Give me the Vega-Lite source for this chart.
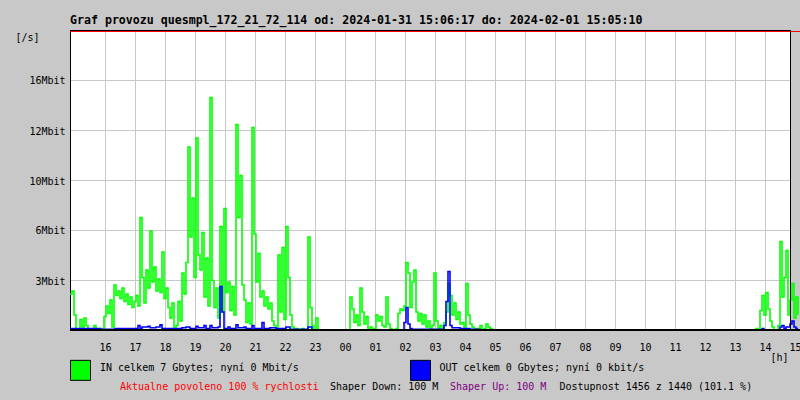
{
  "$schema": "https://vega.github.io/schema/vega-lite/v6.json",
  "width": 730,
  "height": 300,
  "autosize": {"type": "none"},
  "padding": {"left": 70, "top": 30, "right": 0, "bottom": 70},
  "background": "#c8c8c8",
  "config": {
    "view": {"fill": "white", "stroke": null},
    "axis": {"labelOverlap": false, "labelSeparation": 0, "labelFont": "DejaVu Sans Mono", "labelFontSize": 10},
    "text": {"font": "DejaVu Sans Mono", "fontSize": 10, "align": "left", "baseline": "middle"}
  },
  "title": {
    "text": "Graf provozu quesmpl_172_21_72_114 od: 2024-01-31 15:06:17 do: 2024-02-01 15:05:10",
    "anchor": "start",
    "frame": "group",
    "font": "DejaVu Sans Mono",
    "fontSize": 11.6,
    "fontWeight": "bold",
    "color": "black",
    "baseline": "alphabetic",
    "offset": 7,
    "dy": 13
  },
  "layer": [
    {
      "data": {"values": [{}]},
      "mark": {"type": "rect", "fill": "#c8c8c8"},
      "encoding": {
        "x": {"datum": 2332, "type": "quantitative"},
        "x2": {"datum": 2350},
        "y": {"datum": 0, "type": "quantitative"},
        "y2": {"datum": 20}
      }
    },
    {
      "data": {"values": [
        {"t":890,"s":"IN","v":2.4},{"t":894,"s":"IN","v":2.6},{"t":898,"s":"IN","v":1.0},{"t":902,"s":"IN","v":0},{"t":906,"s":"IN","v":0},{"t":910,"s":"IN","v":0.7},{"t":914,"s":"IN","v":0.2},{"t":918,"s":"IN","v":0.8},{"t":922,"s":"IN","v":0.3},{"t":926,"s":"IN","v":0},{"t":934,"s":"IN","v":0},{"t":938,"s":"IN","v":0.3},{"t":942,"s":"IN","v":0},{"t":946,"s":"IN","v":0},{"t":950,"s":"IN","v":0.1},{"t":954,"s":"IN","v":0},{"t":958,"s":"IN","v":0.9},{"t":962,"s":"IN","v":1.6},{"t":966,"s":"IN","v":1.1},{"t":970,"s":"IN","v":2.0},{"t":974,"s":"IN","v":0.2},{"t":978,"s":"IN","v":3.0},{"t":982,"s":"IN","v":2.3},{"t":986,"s":"IN","v":2.6},{"t":990,"s":"IN","v":2.1},{"t":994,"s":"IN","v":2.8},{"t":998,"s":"IN","v":1.9},{"t":1002,"s":"IN","v":2.4},{"t":1006,"s":"IN","v":1.7},{"t":1010,"s":"IN","v":2.2},{"t":1014,"s":"IN","v":1.5},{"t":1018,"s":"IN","v":1.9},{"t":1022,"s":"IN","v":2.3},{"t":1026,"s":"IN","v":1.6},{"t":1030,"s":"IN","v":7.5},{"t":1034,"s":"IN","v":3.5},{"t":1038,"s":"IN","v":1.8},{"t":1042,"s":"IN","v":4.0},{"t":1046,"s":"IN","v":2.8},{"t":1050,"s":"IN","v":6.6},{"t":1054,"s":"IN","v":3.2},{"t":1058,"s":"IN","v":4.2},{"t":1062,"s":"IN","v":2.6},{"t":1066,"s":"IN","v":3.4},{"t":1070,"s":"IN","v":2.5},{"t":1074,"s":"IN","v":5.2},{"t":1078,"s":"IN","v":2.1},{"t":1082,"s":"IN","v":2.8},{"t":1086,"s":"IN","v":1.5},{"t":1090,"s":"IN","v":0.8},{"t":1094,"s":"IN","v":1.8},{"t":1098,"s":"IN","v":0},{"t":1102,"s":"IN","v":0.3},{"t":1106,"s":"IN","v":1.9},{"t":1110,"s":"IN","v":0.6},{"t":1114,"s":"IN","v":3.8},{"t":1118,"s":"IN","v":2.4},{"t":1122,"s":"IN","v":4.5},{"t":1126,"s":"IN","v":12.2},{"t":1130,"s":"IN","v":6.2},{"t":1134,"s":"IN","v":8.8},{"t":1138,"s":"IN","v":3.5},{"t":1142,"s":"IN","v":12.8},{"t":1146,"s":"IN","v":5.0},{"t":1150,"s":"IN","v":4.0},{"t":1154,"s":"IN","v":6.5},{"t":1158,"s":"IN","v":2.2},{"t":1162,"s":"IN","v":4.8},{"t":1166,"s":"IN","v":1.6},{"t":1170,"s":"IN","v":15.5},{"t":1174,"s":"IN","v":3.3},{"t":1178,"s":"IN","v":1.5},{"t":1182,"s":"IN","v":2.8},{"t":1186,"s":"IN","v":0.8},{"t":1190,"s":"IN","v":6.9},{"t":1194,"s":"IN","v":1.2},{"t":1198,"s":"IN","v":8.1},{"t":1202,"s":"IN","v":2.5},{"t":1206,"s":"IN","v":3.2},{"t":1210,"s":"IN","v":1.3},{"t":1214,"s":"IN","v":2.9},{"t":1218,"s":"IN","v":1.0},{"t":1222,"s":"IN","v":13.7},{"t":1226,"s":"IN","v":7.5},{"t":1230,"s":"IN","v":10.3},{"t":1234,"s":"IN","v":3.0},{"t":1238,"s":"IN","v":2.0},{"t":1242,"s":"IN","v":0.5},{"t":1246,"s":"IN","v":1.8},{"t":1250,"s":"IN","v":0.4},{"t":1254,"s":"IN","v":13.5},{"t":1258,"s":"IN","v":6.4},{"t":1262,"s":"IN","v":3.2},{"t":1266,"s":"IN","v":5.1},{"t":1270,"s":"IN","v":2.2},{"t":1274,"s":"IN","v":2.6},{"t":1278,"s":"IN","v":1.6},{"t":1282,"s":"IN","v":2.2},{"t":1286,"s":"IN","v":1.4},{"t":1290,"s":"IN","v":1.8},{"t":1294,"s":"IN","v":0.6},{"t":1298,"s":"IN","v":0.3},{"t":1302,"s":"IN","v":0.1},{"t":1306,"s":"IN","v":5.0},{"t":1310,"s":"IN","v":1.2},{"t":1314,"s":"IN","v":5.5},{"t":1318,"s":"IN","v":0.7},{"t":1322,"s":"IN","v":6.9},{"t":1326,"s":"IN","v":3.5},{"t":1330,"s":"IN","v":1.0},{"t":1334,"s":"IN","v":0.2},{"t":1338,"s":"IN","v":0},{"t":1342,"s":"IN","v":0.1},{"t":1346,"s":"IN","v":0},{"t":1354,"s":"IN","v":0.1},{"t":1358,"s":"IN","v":0},{"t":1366,"s":"IN","v":6.2},{"t":1370,"s":"IN","v":1.5},{"t":1374,"s":"IN","v":0.3},{"t":1378,"s":"IN","v":0},{"t":1382,"s":"IN","v":0.8},{"t":1386,"s":"IN","v":0},{"t":1446,"s":"IN","v":0},{"t":1450,"s":"IN","v":2.2},{"t":1454,"s":"IN","v":1.4},{"t":1458,"s":"IN","v":0.5},{"t":1462,"s":"IN","v":1.0},{"t":1466,"s":"IN","v":0.3},{"t":1470,"s":"IN","v":2.8},{"t":1474,"s":"IN","v":1.2},{"t":1478,"s":"IN","v":0.4},{"t":1482,"s":"IN","v":0.9},{"t":1486,"s":"IN","v":0},{"t":1490,"s":"IN","v":0.2},{"t":1494,"s":"IN","v":0},{"t":1498,"s":"IN","v":0.1},{"t":1502,"s":"IN","v":1.0},{"t":1506,"s":"IN","v":0.6},{"t":1510,"s":"IN","v":0.9},{"t":1514,"s":"IN","v":0.3},{"t":1518,"s":"IN","v":0.2},{"t":1522,"s":"IN","v":2.2},{"t":1526,"s":"IN","v":0.4},{"t":1530,"s":"IN","v":0.1},{"t":1534,"s":"IN","v":0},{"t":1542,"s":"IN","v":0.1},{"t":1546,"s":"IN","v":1.1},{"t":1550,"s":"IN","v":1.4},{"t":1554,"s":"IN","v":1.3},{"t":1558,"s":"IN","v":1.6},{"t":1562,"s":"IN","v":4.5},{"t":1566,"s":"IN","v":3.8},{"t":1570,"s":"IN","v":1.5},{"t":1574,"s":"IN","v":3.2},{"t":1578,"s":"IN","v":4.0},{"t":1582,"s":"IN","v":1.2},{"t":1586,"s":"IN","v":0.6},{"t":1590,"s":"IN","v":1.1},{"t":1594,"s":"IN","v":0.4},{"t":1598,"s":"IN","v":1.0},{"t":1602,"s":"IN","v":0.2},{"t":1606,"s":"IN","v":0.6},{"t":1610,"s":"IN","v":0.1},{"t":1614,"s":"IN","v":0.3},{"t":1618,"s":"IN","v":3.8},{"t":1622,"s":"IN","v":0.6},{"t":1626,"s":"IN","v":0.1},{"t":1630,"s":"IN","v":0.3},{"t":1634,"s":"IN","v":0},{"t":1638,"s":"IN","v":0.5},{"t":1642,"s":"IN","v":1.2},{"t":1646,"s":"IN","v":3.1},{"t":1650,"s":"IN","v":2.3},{"t":1654,"s":"IN","v":1.0},{"t":1658,"s":"IN","v":1.8},{"t":1662,"s":"IN","v":0.7},{"t":1666,"s":"IN","v":1.2},{"t":1670,"s":"IN","v":0.4},{"t":1674,"s":"IN","v":0.5},{"t":1678,"s":"IN","v":0.2},{"t":1682,"s":"IN","v":3.1},{"t":1686,"s":"IN","v":1.0},{"t":1690,"s":"IN","v":0.4},{"t":1694,"s":"IN","v":0.2},{"t":1698,"s":"IN","v":0},{"t":1702,"s":"IN","v":0.1},{"t":1706,"s":"IN","v":0},{"t":1710,"s":"IN","v":0.3},{"t":1714,"s":"IN","v":0},{"t":1718,"s":"IN","v":0.1},{"t":1722,"s":"IN","v":0.4},{"t":1726,"s":"IN","v":0.2},{"t":1730,"s":"IN","v":0.1},{"t":1734,"s":"IN","v":0},{"t":2262,"s":"IN","v":0.1},{"t":2266,"s":"IN","v":0},{"t":2270,"s":"IN","v":1.3},{"t":2274,"s":"IN","v":2.3},{"t":2278,"s":"IN","v":1.0},{"t":2282,"s":"IN","v":2.5},{"t":2286,"s":"IN","v":1.4},{"t":2290,"s":"IN","v":0.6},{"t":2294,"s":"IN","v":0.2},{"t":2298,"s":"IN","v":0},{"t":2306,"s":"IN","v":0.3},{"t":2310,"s":"IN","v":5.9},{"t":2314,"s":"IN","v":2.2},{"t":2318,"s":"IN","v":3.5},{"t":2322,"s":"IN","v":5.3},{"t":2326,"s":"IN","v":1.0},{"t":2330,"s":"IN","v":2.0},{"t":2334,"s":"IN","v":3.1},{"t":2338,"s":"IN","v":0.8},{"t":2342,"s":"IN","v":2.2},{"t":2346,"s":"IN","v":1.0},
        {"t":890,"s":"OUT","v":0.1},{"t":920,"s":"OUT","v":0.1},{"t":950,"s":"OUT","v":0.05},{"t":980,"s":"OUT","v":0.1},{"t":1010,"s":"OUT","v":0.1},{"t":1026,"s":"OUT","v":0.3},{"t":1030,"s":"OUT","v":0.1},{"t":1034,"s":"OUT","v":0.2},{"t":1042,"s":"OUT","v":0.2},{"t":1046,"s":"OUT","v":0.25},{"t":1050,"s":"OUT","v":0.15},{"t":1062,"s":"OUT","v":0.2},{"t":1070,"s":"OUT","v":0.35},{"t":1074,"s":"OUT","v":0.1},{"t":1102,"s":"OUT","v":0.1},{"t":1114,"s":"OUT","v":0.15},{"t":1122,"s":"OUT","v":0.2},{"t":1130,"s":"OUT","v":0.1},{"t":1142,"s":"OUT","v":0.25},{"t":1146,"s":"OUT","v":0.15},{"t":1158,"s":"OUT","v":0.3},{"t":1162,"s":"OUT","v":0.1},{"t":1170,"s":"OUT","v":0.3},{"t":1174,"s":"OUT","v":0.15},{"t":1186,"s":"OUT","v":0.2},{"t":1190,"s":"OUT","v":2.9},{"t":1194,"s":"OUT","v":1.2},{"t":1198,"s":"OUT","v":0.1},{"t":1206,"s":"OUT","v":0.2},{"t":1210,"s":"OUT","v":0.1},{"t":1222,"s":"OUT","v":0.35},{"t":1226,"s":"OUT","v":0.15},{"t":1238,"s":"OUT","v":0.2},{"t":1242,"s":"OUT","v":0.1},{"t":1254,"s":"OUT","v":0.3},{"t":1258,"s":"OUT","v":0.1},{"t":1274,"s":"OUT","v":0.5},{"t":1278,"s":"OUT","v":0.1},{"t":1290,"s":"OUT","v":0.15},{"t":1302,"s":"OUT","v":0.1},{"t":1322,"s":"OUT","v":0.2},{"t":1330,"s":"OUT","v":0.05},{"t":1366,"s":"OUT","v":0.2},{"t":1374,"s":"OUT","v":0},{"t":1554,"s":"OUT","v":0},{"t":1558,"s":"OUT","v":0.5},{"t":1562,"s":"OUT","v":1.5},{"t":1566,"s":"OUT","v":0.4},{"t":1570,"s":"OUT","v":0.1},{"t":1574,"s":"OUT","v":0.05},{"t":1638,"s":"OUT","v":0.3},{"t":1642,"s":"OUT","v":1.9},{"t":1646,"s":"OUT","v":3.9},{"t":1650,"s":"OUT","v":0.3},{"t":1654,"s":"OUT","v":0.15},{"t":1670,"s":"OUT","v":0.1},{"t":1690,"s":"OUT","v":0.05},{"t":1710,"s":"OUT","v":0},{"t":2274,"s":"OUT","v":0.1},{"t":2278,"s":"OUT","v":0},{"t":2310,"s":"OUT","v":0.2},{"t":2314,"s":"OUT","v":0.3},{"t":2318,"s":"OUT","v":0.1},{"t":2322,"s":"OUT","v":0.2},{"t":2330,"s":"OUT","v":0.4},{"t":2334,"s":"OUT","v":0.6},{"t":2338,"s":"OUT","v":0.2},{"t":2342,"s":"OUT","v":0.1},{"t":2346,"s":"OUT","v":0.1}
      ]},
      "mark": {"type": "line", "interpolate": "step-after", "strokeWidth": 1.6, "clip": true},
      "encoding": {
        "x": {"field": "t", "type": "quantitative", "scale": {"domain": [890, 2350], "nice": false, "zero": false},
          "axis": {
            "values": [960,1020,1080,1140,1200,1260,1320,1380,1440,1500,1560,1620,1680,1740,1800,1860,1920,1980,2040,2100,2160,2220,2280,2340],
            "tickCount": 40,
            "labelExpr": "(floor(datum.value/60)%24 < 10 ? '0' : '') + (floor(datum.value/60)%24)",
            "labelOverlap": false, "labelBound": false, "labelFlush": false, "labelSeparation": 0,
            "labelFont": "DejaVu Sans Mono", "labelFontSize": 10, "labelColor": "black",
            "labelBaseline": "middle", "labelPadding": 17, "labelAngle": 0,
            "ticks": false, "tickSize": 0, "domain": false,
            "grid": true, "gridColor": "#c8c8c8",
            "title": "[h]", "titleFont": "DejaVu Sans Mono", "titleFontSize": 10, "titleFontWeight": "normal", "titleColor": "black",
            "titleAngle": 0, "titleAlign": "left", "titleBaseline": "middle", "titleX": 700, "titleY": 27
          }},
        "y": {"field": "v", "type": "quantitative", "scale": {"domain": [0, 20], "nice": false},
          "axis": {
            "values": [3.3333, 6.6667, 10, 13.3333, 16.6667],
            "labelExpr": "datum.value < 5 ? '3Mbit' : datum.value < 8 ? '6Mbit' : datum.value < 11 ? '10Mbit' : datum.value < 15 ? '12Mbit' : '16Mbit'",
            "labelOverlap": false,
            "labelFont": "DejaVu Sans Mono", "labelFontSize": 10, "labelColor": "black",
            "labelPadding": 5, "labelOffset": 1, "ticks": false, "tickSize": 0,
            "domainColor": "black", "domainWidth": 1,
            "grid": true, "gridColor": "#c8c8c8",
            "title": "[/s]", "titleFont": "DejaVu Sans Mono", "titleFontSize": 10, "titleFontWeight": "normal", "titleColor": "black",
            "titleAngle": 0, "titleAlign": "left", "titleBaseline": "middle", "titleX": -55, "titleY": 7
          }},
        "color": {"field": "s", "type": "nominal", "scale": {"domain": ["IN", "OUT"], "range": ["#00ff00", "#0000ff"]}, "legend": null}
      }
    },
    {
      "data": {"values": [{}]},
      "mark": {"type": "rule", "color": "black", "strokeWidth": 1},
      "encoding": {"x": {"datum": 890, "type": "quantitative"}, "x2": {"datum": 2330}, "y": {"datum": 19.9667, "type": "quantitative"}}
    },
    {
      "data": {"values": [{}]},
      "mark": {"type": "rule", "color": "#ff0000", "strokeWidth": 1},
      "encoding": {"x": {"datum": 890, "type": "quantitative"}, "x2": {"datum": 2350}, "y": {"datum": 19.9, "type": "quantitative"}}
    },
    {
      "data": {"values": [{}]},
      "mark": {"type": "rule", "color": "black", "strokeWidth": 1},
      "encoding": {"x": {"datum": 2331, "type": "quantitative"}, "y": {"datum": 0, "type": "quantitative"}, "y2": {"datum": 20}}
    },
    {
      "data": {"values": [{}]},
      "mark": {"type": "rule", "color": "black", "strokeWidth": 2},
      "encoding": {"x": {"datum": 890, "type": "quantitative"}, "x2": {"datum": 2350}, "y": {"datum": 0, "type": "quantitative"}}
    },
    {
      "data": {"values": [{}]},
      "mark": {"type": "point", "shape": "square", "size": 400, "filled": true, "fill": "#00ff00", "stroke": "black", "strokeWidth": 1, "opacity": 1},
      "encoding": {"x": {"datum": 911, "type": "quantitative"}, "y": {"datum": -2.69, "type": "quantitative"}}
    },
    {
      "data": {"values": [{}]},
      "mark": {"type": "point", "shape": "square", "size": 400, "filled": true, "fill": "#0000ff", "stroke": "black", "strokeWidth": 1, "opacity": 1},
      "encoding": {"x": {"datum": 1591, "type": "quantitative"}, "y": {"datum": -2.69, "type": "quantitative"}}
    },
    {
      "data": {"values": [{"label": "IN celkem 7 Gbytes; nyní 0 Mbit/s"}]},
      "mark": {"type": "text", "color": "black"},
      "encoding": {"text": {"field": "label"}, "x": {"datum": 950, "type": "quantitative"}, "y": {"datum": -2.5, "type": "quantitative"}}
    },
    {
      "data": {"values": [{"label": "OUT celkem 0 Gbytes; nyní 0 kbit/s"}]},
      "mark": {"type": "text", "color": "black"},
      "encoding": {"text": {"field": "label"}, "x": {"datum": 1629, "type": "quantitative"}, "y": {"datum": -2.5, "type": "quantitative"}}
    },
    {
      "data": {"values": [{"label": "Aktualne povoleno 100 % rychlosti"}]},
      "mark": {"type": "text", "color": "#ff0000"},
      "encoding": {"text": {"field": "label"}, "x": {"datum": 990, "type": "quantitative"}, "y": {"datum": -3.833, "type": "quantitative"}}
    },
    {
      "data": {"values": [{"label": "Shaper Down: 100 M"}]},
      "mark": {"type": "text", "color": "black"},
      "encoding": {"text": {"field": "label"}, "x": {"datum": 1410, "type": "quantitative"}, "y": {"datum": -3.833, "type": "quantitative"}}
    },
    {
      "data": {"values": [{"label": "Shaper Up: 100 M"}]},
      "mark": {"type": "text", "color": "#800080"},
      "encoding": {"text": {"field": "label"}, "x": {"datum": 1650, "type": "quantitative"}, "y": {"datum": -3.833, "type": "quantitative"}}
    },
    {
      "data": {"values": [{"label": "Dostupnost 1456 z 1440 (101.1 %)"}]},
      "mark": {"type": "text", "color": "black"},
      "encoding": {"text": {"field": "label"}, "x": {"datum": 1869, "type": "quantitative"}, "y": {"datum": -3.833, "type": "quantitative"}}
    }
  ]
}
